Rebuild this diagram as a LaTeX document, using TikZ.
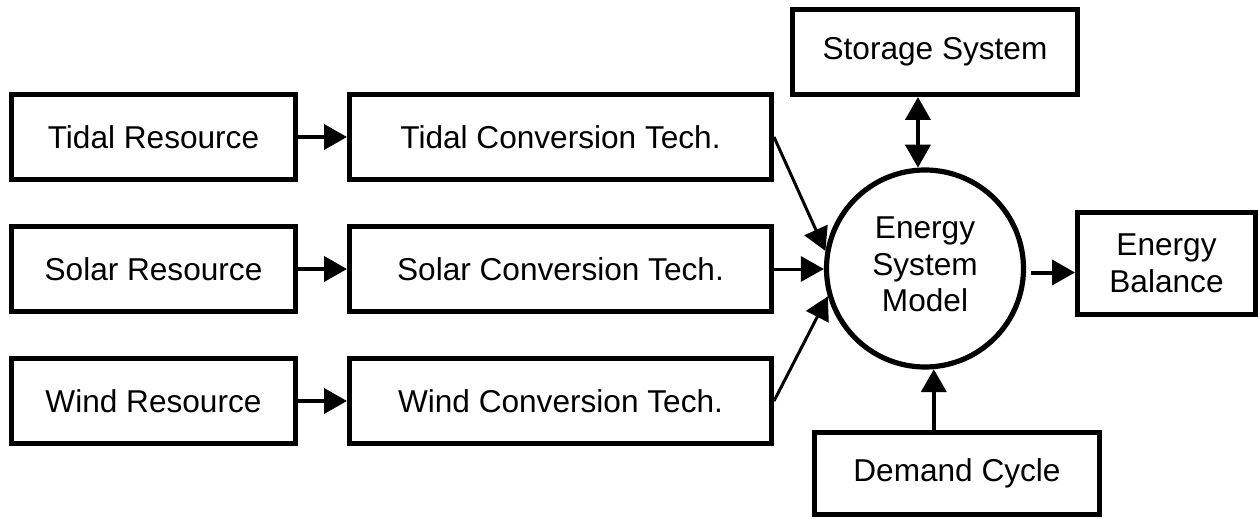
\documentclass[tikz,border=0pt]{standalone}
\usepackage{fontspec}
\setmainfont{Liberation Sans}
\usetikzlibrary{arrows.meta,calc}
\begin{document}
\begin{tikzpicture}[x=0.5pt,y=-0.5pt,
  txt/.style={font=\fontsize{15.8}{18.3}\selectfont, align=center},
  box/.style={txt, draw, line width=2.5pt, rectangle, inner sep=0pt},
  resource/.style={box, minimum width=142pt, minimum height=42.5pt},
  convert/.style={box, minimum width=211pt, minimum height=42.5pt},
  model/.style={txt, draw, line width=2.6pt, circle, inner sep=0pt, minimum size=98.5pt},
  head/.tip={Triangle[length=11.5pt,width=12.5pt]},
  flow/.style={line width=2pt, -head},
  feed/.style={line width=1.5pt, -head},
  duplex/.style={line width=2pt, head-head}]
  \useasboundingbox (0,0) rectangle (1259,519);

  % resources and their conversion technologies
  \node[resource] (tidalR) at (153.5,137) {Tidal Resource};
  \node[resource] (solarR) at (153.5,269) {Solar Resource};
  \node[resource] (windR)  at (153.5,401) {Wind Resource};
  \node[convert] (tidalC) at (560.5,137) {Tidal Conversion Tech.};
  \node[convert] (solarC) at (560.5,269) {Solar Conversion Tech.};
  \node[convert] (windC)  at (560.5,401) {Wind Conversion Tech.};

  % central model (the strut lifts the three lines a little) and its neighbours
  \node[model] (model) at (925,268.5) {Energy\\System\\Model\rule[-4pt]{0pt}{0pt}};
  \node[box, minimum width=142.5pt, minimum height=42.5pt] (storage) at (935,52) {Storage System};
  \node[box, minimum width=89pt, minimum height=51pt] (balance) at (1166.5,263.5) {Energy\\Balance};
  \node[box, minimum width=142.5pt, minimum height=41pt] (demand) at (957,473.5) {Demand Cycle};

  % connectors
  \draw[flow] (tidalR) -- (tidalC);
  \draw[flow] (solarR) -- (solarC);
  \draw[flow] (windR) -- (windC);
  \draw[feed] (tidalC.east) -- (model.170);
  \draw[feed] (solarC.east) -- (solarC.east -| model.west);
  \draw[feed] (windC.east) -- (model.196);
  \draw[duplex] (storage.south -| model.94) -- (model.94);
  \draw[flow] (demand.north -| model.-85) -- (model.-85);
  \coordinate (out) at ($(model.east)+(5,4)$);
  \draw[flow] (out) -- (out -| balance.west);
\end{tikzpicture}
\end{document}
